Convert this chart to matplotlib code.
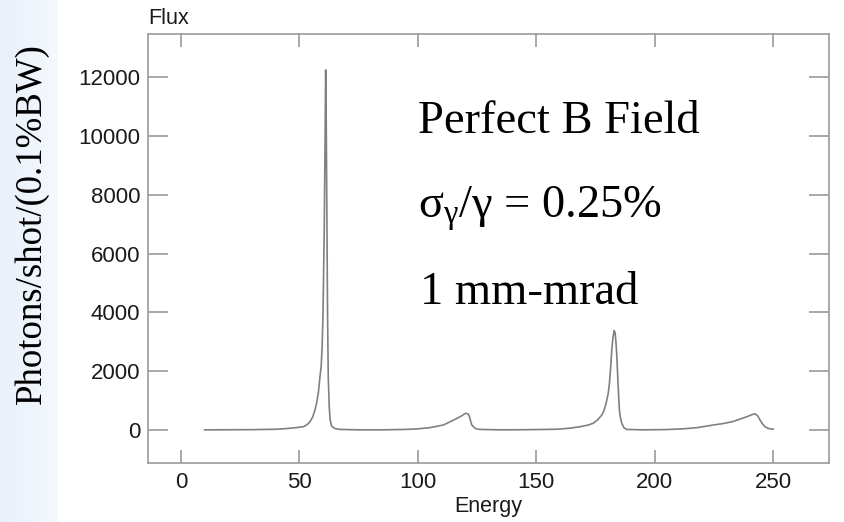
import numpy as np
import matplotlib
matplotlib.use('Agg')
import matplotlib.pyplot as plt
from matplotlib.colors import LinearSegmentedColormap

plt.rcParams['mathtext.fontset'] = 'custom'
plt.rcParams['mathtext.rm'] = 'Liberation Serif'
plt.rcParams['mathtext.it'] = 'Liberation Serif'
plt.rcParams['mathtext.bf'] = 'Liberation Serif:bold'

# spectrum (energy, flux)
energy = [10, 20, 30, 40, 44, 48, 51.7, 52.8, 53.8, 54.5, 55.6, 56.6, 57.3, 58.0,
          58.7, 59.2, 59.6, 60.0, 60.5, 60.9, 61.1, 61.3, 61.6, 61.9, 62.2, 62.6,
          63.0, 63.6, 65, 67, 75, 85,
          95, 100, 105.2, 110.8, 115.7, 118.5, 119.6, 120.4, 121.3, 121.8, 122.8,
          124.2, 126, 135,
          145, 155, 160, 165, 168.5, 172, 174.1, 176, 177.7, 178.5, 179.2,
          179.8, 180.4, 180.9, 181.4, 181.9, 182.4, 182.9, 183.3, 183.7, 184.1,
          184.4, 184.8, 185.1, 185.6, 186.1, 187, 188.2,
          195, 205, 212, 218, 224.8, 229, 233.2, 236, 238.9, 241, 242.4, 243.5,
          244.5, 245.6, 246.6, 248, 250]
flux = [5, 8, 12, 25, 45, 75, 112, 160, 220, 283, 440, 680, 920, 1250,
        1810, 2150, 2800, 4000, 6800, 10200, 12240, 11000, 7500, 4000, 1800, 800,
        350, 130, 50, 20, 5, 5,
        20, 40, 80, 170, 360, 480, 540, 570, 540, 450, 170,
        55, 20, 5,
        10, 20, 30, 70, 112, 170, 230, 350, 510, 640, 820,
        1020, 1250, 1590, 2100, 2720, 3150, 3380, 3300, 2950, 2400,
        1810, 1150, 680, 400, 230, 80, 20,
        5, 15, 40, 80, 170, 220, 290, 370, 450, 520, 550, 480,
        340, 200, 110, 50, 30]

xticks = [0, 50, 100, 150, 200, 250]
yticks = [0, 2000, 4000, 6000, 8000, 10000, 12000]

W, H = 844, 522
fig = plt.figure(figsize=(W / 100, H / 100), dpi=100)

# light blue strip on the left
bg = fig.add_axes([0, 0, 58 / W, 1], zorder=-5)
grad = np.linspace(0, 1, 100).reshape(1, -1)
cm = LinearSegmentedColormap.from_list('strip', ['#e9f0f9', '#f5f9fe'])
bg.imshow(grad, aspect='auto', cmap=cm, extent=[0, 1, 0, 1])
bg.axis('off')

ax = fig.add_axes([148 / W, 1 - 463 / H, (829 - 148) / W, (463 - 34) / H])
ax.plot(energy, flux, color='#808080', lw=1.2)

ax.set_xlim(-13.9, 273.6)
ax.set_ylim(-1122, 13462)
ax.set_xticks(xticks)
ax.set_yticks(yticks)

gray = '#9a9a9a'
for s in ax.spines.values():
    s.set_color(gray)
    s.set_linewidth(1.2)
ax.tick_params(axis='both', direction='in', colors=gray, width=1.2,
               labelcolor='#1a1a1a', labelsize=16, top=True, right=True)
ax.tick_params(axis='y', length=14.5, pad=5.5)
ax.tick_params(axis='x', length=9.5, pad=6.5)
for lab in ax.get_xticklabels() + ax.get_yticklabels():
    lab.set_family('Liberation Sans')

ax.set_xlabel('Energy', fontsize=15.5, family='Liberation Sans', color='#1a1a1a',
              labelpad=2)
fig.text(148 / W, 1 - 19 / H, 'Flux', fontsize=15.5, family='Liberation Sans',
         color='#1a1a1a', ha='left', va='center')

fig.text(32 / W, 1 - 224 / H, 'Photons/shot/(0.1%BW)', rotation=90,
         fontsize=26.5, family='Liberation Serif', ha='center', va='center')

serif = dict(fontsize=33.5, family='Liberation Serif', ha='left', va='baseline')
fig.text(418 / W, 1 - 133 / H, 'Perfect B Field', **serif)
fig.text(418 / W, 1 - 218 / H, r'$\sigma_\gamma/\gamma$ = 0.25%', **serif)
fig.text(420 / W, 1 - 304 / H, '1 mm-mrad', **serif)

fig.savefig('out.png', dpi=100)
